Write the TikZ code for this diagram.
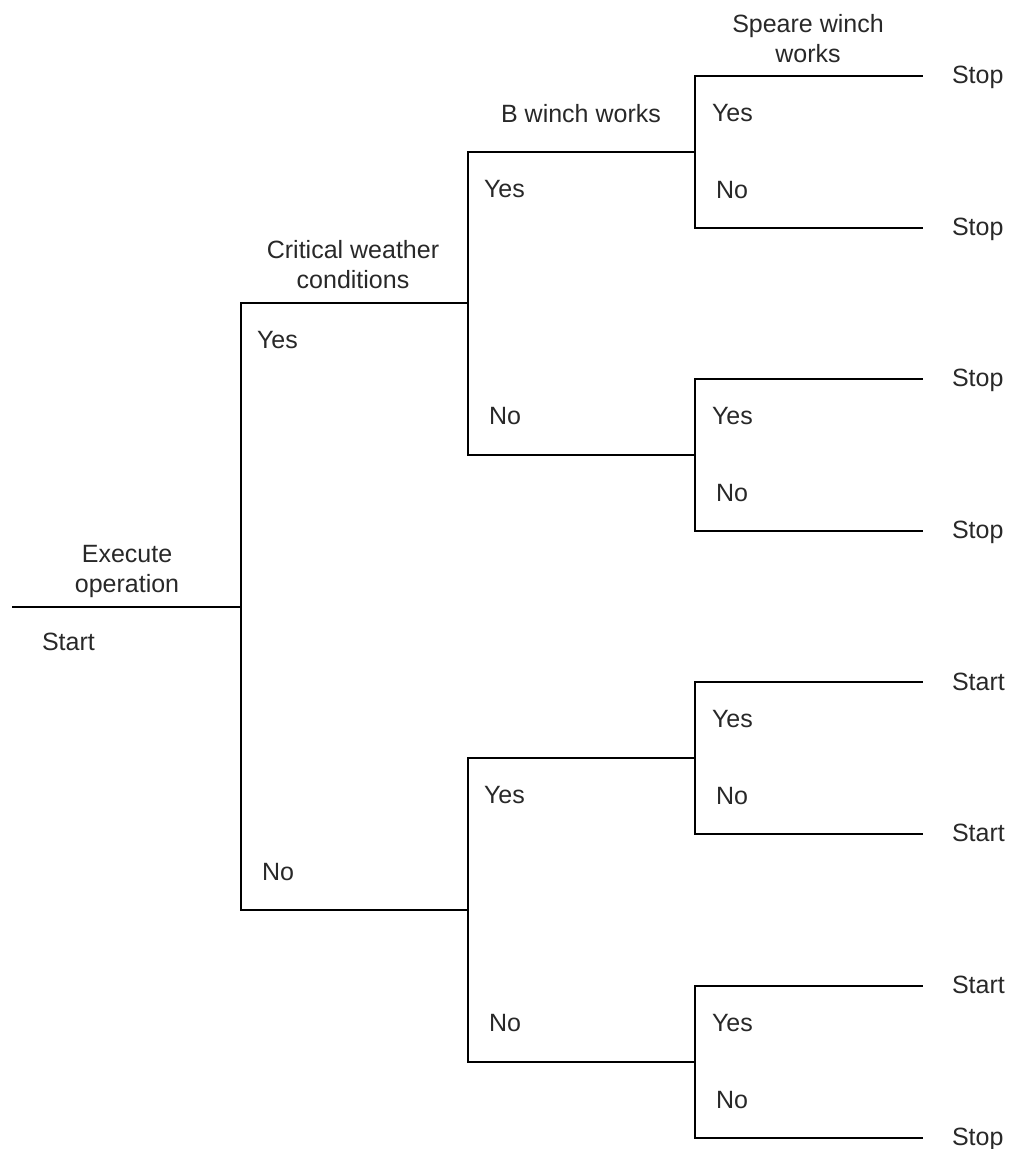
\documentclass[tikz,border=0pt]{standalone}
\usepackage{fontspec}
\setmainfont{Liberation Sans}
\definecolor{txt}{RGB}{40,40,40}
\begin{document}
\begin{tikzpicture}[x=1pt,y=-1pt,
  branch/.style={line width=2.2pt, draw=black, line cap=rect},
  lbl/.style={inner sep=0pt, outer sep=0pt, text=txt,
              font=\fontsize{25}{30}\selectfont},
  head/.style={lbl, align=center, anchor=base},
  yes/.style={lbl, anchor=base west},
  no/.style={lbl, anchor=base west},
  leaf/.style={lbl, anchor=base west}]
\useasboundingbox (0,0) rectangle (1015,1149);

% junction points of the tree
\coordinate (s0) at (13,607);
\coordinate (r)  at (241,607);
\coordinate (rT) at (241,303);
\coordinate (rB) at (241,910);
\coordinate (a)  at (468,303);
\coordinate (b)  at (468,910);
\coordinate (aT) at (468,152);
\coordinate (aB) at (468,455);
\coordinate (bT) at (468,758);
\coordinate (bB) at (468,1062);

% root and first split
\draw[branch] (s0) -- (r);
\draw[branch] (rT) -- (rB);
\draw[branch] (rT) -- (a);
\draw[branch] (rB) -- (b);
\draw[branch] (aT) -- (aB);
\draw[branch] (bT) -- (bB);

% third level splits and leaf branches
\foreach \n/\c in {aT/152, aB/455, bT/758, bB/1062}{
  \coordinate (\n-j)  at (695,\c);
  \coordinate (\n-jT) at (695,\c-76);
  \coordinate (\n-jB) at (695,\c+76);
  \coordinate (\n-eT) at (922,\c-76);
  \coordinate (\n-eB) at (922,\c+76);
  \draw[branch] (\n) -- (\n-j);
  \draw[branch] (\n-jT) -- (\n-jB);
  \draw[branch] (\n-jT) -- (\n-eT);
  \draw[branch] (\n-jB) -- (\n-eB);
  \node[yes] (\n-yes) at (712,\c-31) {Yes};
  \node[no]  (\n-no)  at (716,\c+46) {No};
}

% headings (base anchor sits on the last line)
\node[head] (h1) at (127,592) {Execute\\operation};
\node[head] (h2) at (353,288) {Critical weather\\conditions};
\node[head] (h3) at (581,122) {B winch works};
\node[head] (h4) at (808,62)  {Speare winch\\works};

% first and second level answers
\node[leaf] (start) at (42,650) {Start};
\node[yes] (y1) at (257,348) {Yes};
\node[no]  (n1) at (262,880) {No};
\node[yes] (y2a) at (484,197) {Yes};
\node[no]  (n2a) at (489,424) {No};
\node[yes] (y2b) at (484,803) {Yes};
\node[no]  (n2b) at (489,1031) {No};

% outcomes
\node[leaf] (o1) at (952,83)   {Stop};
\node[leaf] (o2) at (952,235)  {Stop};
\node[leaf] (o3) at (952,386)  {Stop};
\node[leaf] (o4) at (952,538)  {Stop};
\node[leaf] (o5) at (952,690)  {Start};
\node[leaf] (o6) at (952,841)  {Start};
\node[leaf] (o7) at (952,993)  {Start};
\node[leaf] (o8) at (952,1145) {Stop};
\end{tikzpicture}
\end{document}
